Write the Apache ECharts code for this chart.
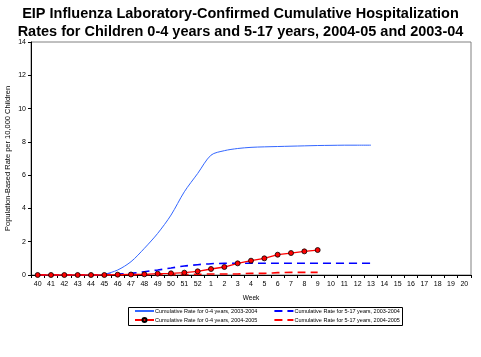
<!DOCTYPE html>
<html><head><meta charset="utf-8">
<script src="https://cdn.jsdelivr.net/npm/echarts@6/dist/echarts.min.js"></script>
<style>html,body{margin:0;padding:0;background:#fff}#c{width:481px;height:357px}</style>
</head><body><div id="c"></div>
<script>
var weeks = ['40','41','42','43','44','45','46','47','48','49','50','51','52','1','2','3','4','5','6','7','8','9','10','11','12','13','14','15','16','17','18','19','20'];
var rate04_2003 = [0,0,0,0,0,0.05,0.3,0.8,1.6,2.5,3.6,5.0,6.1,7.2,7.47,7.6,7.67,7.7,7.72,7.74,7.76,7.78,7.79,7.8,7.8,7.8];
var rate517_2003 = [0,0,0,0,0,0.02,0.06,0.1,0.2,0.3,0.42,0.54,0.62,0.68,0.7,0.71,0.71,0.71,0.71,0.71,0.71,0.71,0.71,0.71,0.71,0.71];
var rate04_2004 = [0,0,0,0,0,0,0.02,0.03,0.04,0.08,0.1,0.14,0.22,0.36,0.48,0.7,0.86,1.0,1.22,1.32,1.42,1.5];
var rate517_2004 = [0,0,0,0,0,0,0.01,0.01,0.01,0.02,0.02,0.03,0.04,0.06,0.06,0.06,0.1,0.1,0.14,0.16,0.16,0.16];
var yTicks = [0,2,4,6,8,10,12,14];
var names = ['Cumulative Rate for 0-4 years, 2003-2004','Cumulative Rate for 5-17 years, 2003-2004','Cumulative Rate for 0-4 years, 2004-2005','Cumulative Rate for 5-17 years, 2004-2005'];

var chart = echarts.init(document.getElementById('c'));
var F = 'Arial, "Liberation Sans", sans-serif';
var hide = {opacity:0, borderWidth:0};
chart.setOption({
  animation:false,
  backgroundColor:'#fff',
  title:{text:'EIP Influenza Laboratory-Confirmed Cumulative Hospitalization\nRates for Children 0-4 years and 5-17 years, 2004-05 and 2003-04',
    left:'center', top:0, textStyle:{fontFamily:F,fontSize:14.5,fontWeight:'bold',color:'#000',lineHeight:18}},
  grid:{left:31,right:10,top:42,bottom:82,containLabel:false,outerBoundsMode:'none',show:true,borderColor:'#808080',borderWidth:1},
  xAxis:{type:'category',data:weeks,boundaryGap:true,
    name:'Week',nameLocation:'middle',nameGap:20,nameMoveOverlap:false,nameTextStyle:{fontFamily:F,fontSize:6.5,color:'#000'},
    axisLine:{lineStyle:{color:'#000',width:1}},
    axisTick:{show:true,length:3,inside:false,lineStyle:{color:'#000'}},
    axisLabel:{fontFamily:F,fontSize:7,color:'#000',margin:6,interval:0}},
  yAxis:{type:'value',min:0,max:14,interval:2,
    name:'Population-Based Rate per 10,000 Children',nameLocation:'middle',nameGap:19,nameMoveOverlap:false,nameRotate:90,
    nameTextStyle:{fontFamily:F,fontSize:7.5,color:'#000'},
    axisLine:{show:true,lineStyle:{color:'#000',width:1}},
    axisTick:{show:true,length:3,lineStyle:{color:'#000'}},
    splitLine:{show:false},
    axisLabel:{fontFamily:F,fontSize:7,color:'#000',margin:5,formatter:function(v){return yTicks.indexOf(v)>=0?String(v):'';}}},
  legend:[
    {data:[{name:names[0],itemStyle:hide},{name:names[1],itemStyle:hide}],left:134,top:308,itemWidth:19,itemHeight:5,itemGap:16,
     textStyle:{fontFamily:F,fontSize:5.5,color:'#000',padding:[0,0,0,-4]},padding:0},
    {data:[{name:names[2]},{name:names[3],itemStyle:hide}],left:134,top:317,itemWidth:19,itemHeight:5,itemGap:16,
     textStyle:{fontFamily:F,fontSize:5.5,color:'#000',padding:[0,0,0,-4]},padding:0}
  ],
  graphic:[{type:'rect',shape:{x:128.5,y:307.5,width:274,height:18},style:{fill:'none',stroke:'#000',lineWidth:1}}],
  series:[
    {name:names[0],type:'line',data:rate04_2003,smooth:0.3,symbol:'none',
     lineStyle:{color:'#3366FF',width:1},itemStyle:{color:'#3366FF'}},
    {name:names[1],type:'line',data:rate517_2003,smooth:0.3,symbol:'none',
     lineStyle:{color:'#0000FF',width:1.6,type:[8,5]},itemStyle:{color:'#0000FF'}},
    {name:names[2],type:'line',data:rate04_2004,symbol:'circle',symbolSize:5,
     lineStyle:{color:'#FF0000',width:1.3},itemStyle:{color:'#FF0000',borderColor:'#000',borderWidth:0.8}},
    {name:names[3],type:'line',data:rate517_2004,smooth:0.3,symbol:'none',
     lineStyle:{color:'#FF0000',width:1.6,type:[8,5]},itemStyle:{color:'#FF0000'}}
  ]
});
</script></body></html>
